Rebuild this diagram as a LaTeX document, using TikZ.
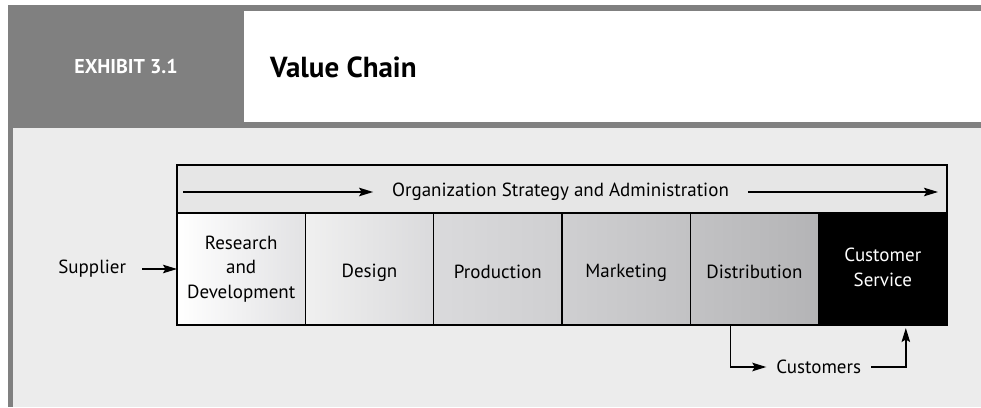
\documentclass[tikz,border=0pt]{standalone}
\usepackage{fontspec}
\setmainfont{PT Sans}
\usetikzlibrary{arrows.meta,positioning}
\definecolor{framegray}{HTML}{808080}
\definecolor{panelbg}{HTML}{ECECEC}
\definecolor{bandbg}{HTML}{E6E6E6}
\definecolor{shA}{HTML}{E2E2E4}
\definecolor{shB}{HTML}{F0F0F0}
\definecolor{shC}{HTML}{DADADC}
\definecolor{shD}{HTML}{CFCFD1}
\definecolor{shE}{HTML}{C2C2C4}
\definecolor{shF}{HTML}{B4B4B6}
\newcommand\cellstrut{\rule[-3.25pt]{0pt}{24.5pt}}
\tikzset{
  ar/.style={-{Stealth[length=14pt,width=8.5pt,inset=2.5pt]},line width=1.6pt},
  cell/.style={draw,line width=1.6pt,minimum width=128.33pt,minimum height=112pt,outer sep=0pt,inner sep=2pt,align=center,
    font=\fontsize{19}{24.5}\selectfont,execute at begin node=\cellstrut,execute at end node=\cellstrut},
  band/.style={draw,line width=1.6pt,fill=bandbg,outer sep=0pt,minimum width=770pt,minimum height=48pt},
  lbl/.style={font=\fontsize{19}{24.5}\selectfont,inner sep=0pt,outer sep=0pt}
}

\begin{document}
\begin{tikzpicture}[x=1pt,y=1pt]
\useasboundingbox (0,0) rectangle (981,407);
% frame and header
\fill[framegray] (8,0.5) rectangle (981,402);
\fill[white] (244,285) rectangle (981,396);
\fill[panelbg] (13,0.5) rectangle (981,279);
\node[font=\fontsize{20}{22}\selectfont\bfseries,text=white] (exh) at (126,340) {EXHIBIT 3.1};
\node[font=\fontsize{29}{32}\selectfont\bfseries,anchor=west,inner sep=0pt] (ttl) at (270,340) {Value Chain};
% the chain
\node[cell,left color=white,right color=shA] (rd) at (241.17,138) {Research\\and\\Development};
\node[cell,left color=shB,right color=shC,right=0pt of rd] (des) {Design};
\node[cell,left color=shC,right color=shD,right=0pt of des] (prod) {Production};
\node[cell,left color=shD,right color=shE,right=0pt of prod] (mkt) {Marketing};
\node[cell,left color=shE,right color=shF,right=0pt of mkt] (dist) {Distribution};
\node[cell,fill=black,text=white,right=0pt of dist] (cs) {Customer\\Service};
\node[band,anchor=south west] (band) at (rd.north west) {};
\node[lbl,inner xsep=19pt] (org) at ([shift={(-1.5,-3)}]band.center) {Organization Strategy and Administration};
\coordinate (bl) at ([xshift=6pt]band.west);
\coordinate (br) at ([xshift=-9pt]band.east);
\draw[ar] (bl |- org) -- (org.west);
\draw[ar] (org.east) -- (br |- org);
% supplier and customers
\node[lbl,inner xsep=16pt,left=35pt of rd] (sup) {Supplier};
\draw[ar] (sup.east) -- (rd.west);
\node[lbl,inner xsep=10pt] (cust) at ([yshift=-42pt]dist.south east) {Customers};
\draw[ar] ([xshift=-24pt]dist.south) |- (cust.west);
\draw[ar] (cust.east) -| ([shift={(23pt,-3pt)}]cs.south);
\end{tikzpicture}
\end{document}
